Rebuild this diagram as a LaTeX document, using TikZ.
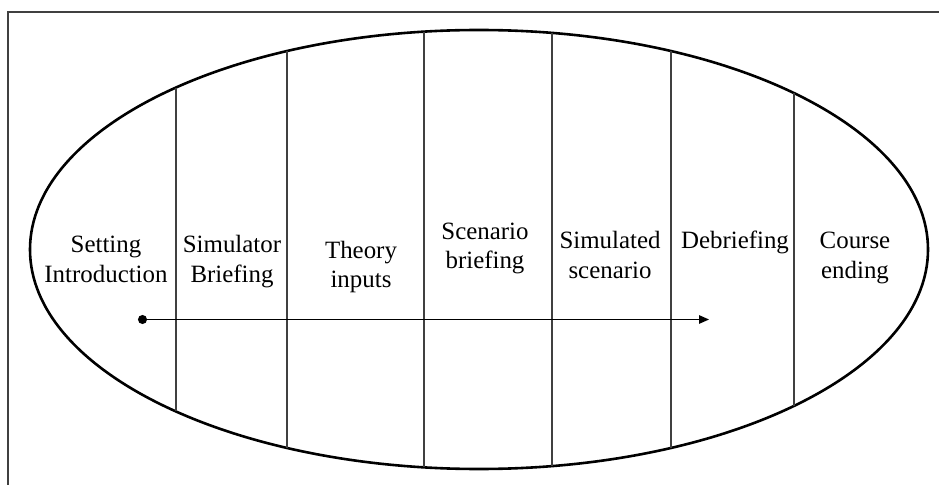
\documentclass[tikz,border=0pt]{standalone}
\usepackage{fontspec}
\setmainfont{Liberation Serif}
\usetikzlibrary{arrows.meta}

\tikzset{
  phase/.style={align=center, anchor=base, inner sep=0pt,
    font=\fontsize{24.9}{29}\selectfont},
  divider/.style={draw=black!75, line width=1.4pt},
  timeline/.style={line width=1.2pt, {Circle[length=9pt]}-{Triangle[length=10pt,width=8.5pt]}}
}

\begin{document}
\begin{tikzpicture}[x=1pt, y=1pt]
        \useasboundingbox (0,0) rectangle (939,485);
        \draw [draw=black!75, line width=1.4pt] (939,473) -- (8,473) -- (8,0);

        \draw [line width=2.6pt] (479,235.5) ellipse [x radius=449, y radius=219.5];

        \foreach \x in {176,287,424,552,671,794}
          \draw [divider] (\x, {235.5+219.5*sqrt(1-((\x-479)/449)^2)})
                       -- (\x, {235.5-219.5*sqrt(1-((\x-479)/449)^2)});

        \node (setting)   at (106, 203) [phase] {Setting\\Introduction};
        \node (simbrief)  at (232, 203) [phase] {Simulator\\Briefing};
        \node (theory)    at (361, 197) [phase] {Theory\\inputs};
        \node (scenbrief) at (485, 216) [phase] {Scenario\\briefing};
        \node (simscen)   at (610, 207) [phase] {Simulated\\scenario};
        \node (debrief)   at (735, 236) [phase] {Debriefing};
        \node (ending)    at (855, 207) [phase] {Course\\ending};

        \coordinate (tstart) at (138, 165.5);
        \coordinate (tend)   at (709, 165.5);
        \draw [timeline] (tstart) -- (tend);
      \end{tikzpicture}
\end{document}
